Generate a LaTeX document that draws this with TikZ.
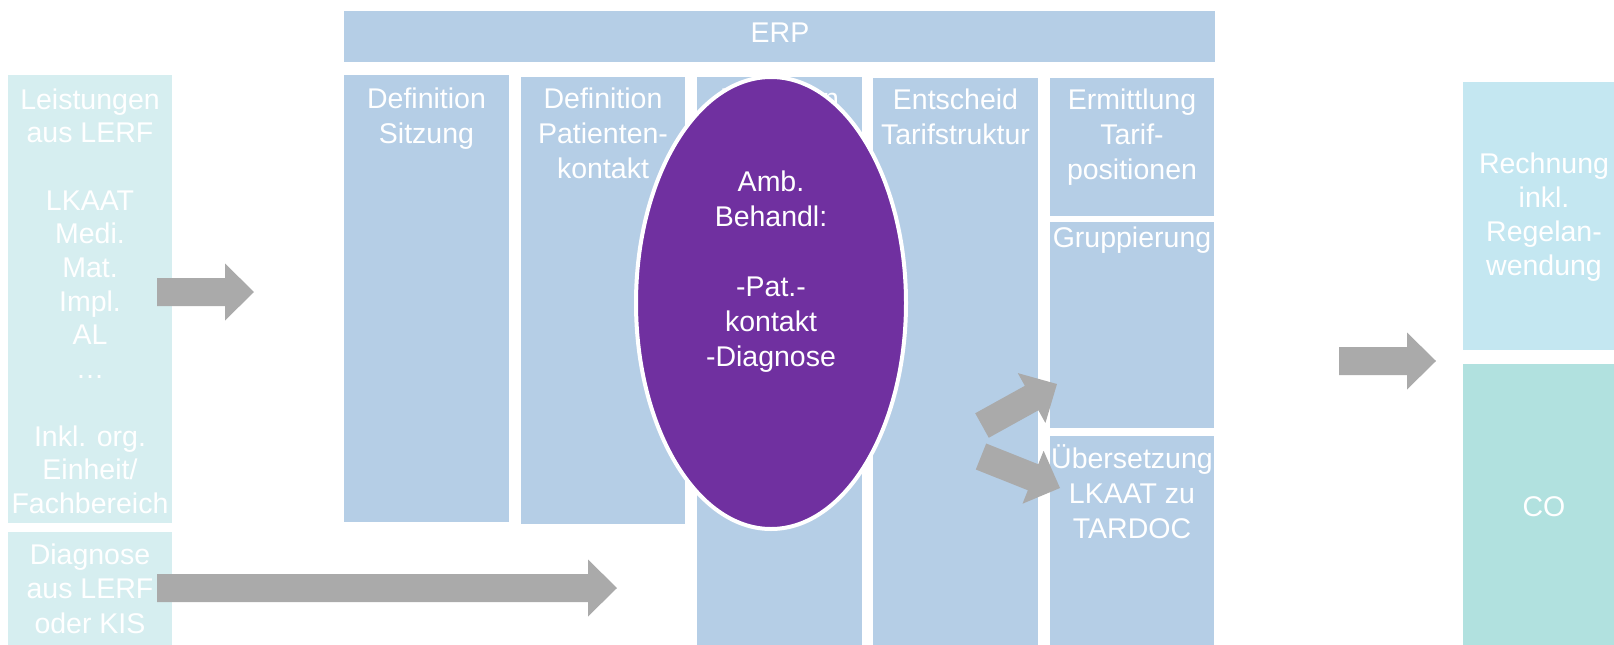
\documentclass[tikz,border=0pt]{standalone}
\usepackage{fontspec}
\setmainfont{Liberation Sans}
\usetikzlibrary{shapes.geometric,calc}
\definecolor{erpblue}{RGB}{181,206,230}
\definecolor{lerfcyan}{RGB}{214,238,240}
\definecolor{rechcyan}{RGB}{196,231,241}
\definecolor{coteal}{RGB}{177,225,223}
\definecolor{ambpurple}{RGB}{112,48,160}
\definecolor{arrowgray}{RGB}{170,170,170}
\tikzset{
  box/.style={fill=#1, draw=none, inner sep=0pt, outer sep=0pt, anchor=north west},
  txt/.style={text=white, align=center, inner sep=0pt, anchor=base,
    font=\fontsize{28.5}{35}\selectfont},
  tighttxt/.style={txt, font=\fontsize{28.5}{33.7}\selectfont},
  ambellipse/.style={ellipse, fill=ambpurple, draw=white, line width=4pt,
    inner sep=0pt, minimum width=270pt, minimum height=452pt},
}
% block arrow between two named coordinates
\newcommand\blockarrow[2]{%
  \fill[arrowgray] let \p1=(#1), \p2=(#2),
    \n1={atan2(\y2-\y1,\x2-\x1)}, \n2={veclen(\x2-\x1,\y2-\y1)} in
    [shift={(\p1)}, rotate=\n1]
    (0,14) -- (\n2-29,14) -- (\n2-29,28.5) -- (\n2,0) -- (\n2-29,-28.5)
    -- (\n2-29,-14) -- (0,-14) -- cycle;}
\begin{document}
\begin{tikzpicture}[x=1pt,y=-1pt]
\useasboundingbox (0,0) rectangle (1614,645);
% boxes
\node[box=erpblue, minimum width=871pt, minimum height=51pt] (erp) at (344,11) {};
\node[box=erpblue, minimum width=165pt, minimum height=447pt] (c1) at (344,75) {};
\node[box=erpblue, minimum width=164pt, minimum height=447pt] (c2) at (521,77) {};
\node[box=erpblue, minimum width=165pt, minimum height=568pt] (c3) at (697,77) {};
\node[box=erpblue, minimum width=165pt, minimum height=567pt] (c4) at (873,78) {};
\node[box=erpblue, minimum width=164pt, minimum height=138pt] (c5a) at (1050,78) {};
\node[box=erpblue, minimum width=164pt, minimum height=206pt] (c5b) at (1050,222) {};
\node[box=erpblue, minimum width=164pt, minimum height=209pt] (c5c) at (1050,436) {};
\node[box=lerfcyan, minimum width=164pt, minimum height=448pt] (l1) at (8,75) {};
\node[box=lerfcyan, minimum width=164pt, minimum height=113pt] (l2) at (8,532) {};
\node[box=rechcyan, minimum width=151pt, minimum height=268pt] (r1) at (1463,82) {};
\node[box=coteal, minimum width=151pt, minimum height=281pt] (r2) at (1463,364) {};
% texts (anchor base = baseline of the last line)
\node[txt] (terp) at (780,42) {ERP};
\node[txt] (tc1) at (426.5,143) {Definition\\Sitzung};
\node[txt] (tc2) at (603,178) {Definition\\Patienten-\\kontakt};
\node[txt] (tc3) at (779.5,108) {Definition};
\node[txt] (tc4) at (955.5,144) {Entscheid\\Tarifstruktur};
\node[txt] (tc5a) at (1132,179) {Ermittlung\\Tarif-\\positionen};
\node[txt] (tc5b) at (1132,247) {Gruppierung};
\node[txt] (tc5c) at (1132,538) {Übersetzung\\LKAAT zu\\TARDOC};
\node[tighttxt] (tl1) at (90,513.4) {Leistungen\\aus LERF\\ \\LKAAT\\Medi.\\Mat.\\Impl.\\AL\\…\\ \\Inkl. org.\\Einheit/\\Fachbereich};
\node[txt, font=\fontsize{28.5}{34.5}\selectfont] (tl2) at (90,633) {Diagnose\\aus LERF\\oder KIS};
\node[tighttxt] (tr1) at (1544,275) {Rechnung\\inkl.\\Regelan-\\wendung};
\node[txt] (tr2) at (1544,516) {CO};
% ellipse
\node[ambellipse] (amb) at (771,303) {};
\node[txt] (tamb) at (771,366) {Amb.\\Behandl:\\ \\-Pat.-\\kontakt\\-Diagnose};
% arrows
\coordinate (a1s) at (157,292);   \coordinate (a1e) at (254,292);
\coordinate (a2s) at (157,588);   \coordinate (a2e) at (617,588);
\coordinate (a3s) at (1339,361);  \coordinate (a3e) at (1436,361);
\coordinate (a4s) at (982,425.5); \coordinate (a4e) at (1057,384);
\coordinate (a5s) at (981,456.5); \coordinate (a5e) at (1060,488);
\blockarrow{a1s}{a1e}
\blockarrow{a2s}{a2e}
\blockarrow{a3s}{a3e}
\blockarrow{a4s}{a4e}
\blockarrow{a5s}{a5e}
\end{tikzpicture}
\end{document}
